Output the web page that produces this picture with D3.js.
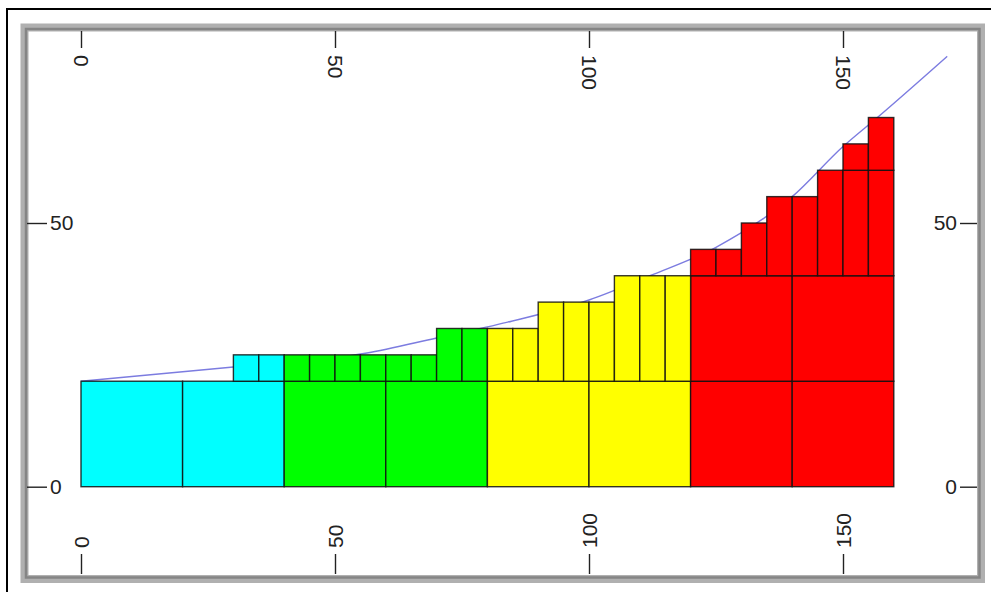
<!DOCTYPE html>
<html>
<head>
<meta charset="utf-8">
<script src="https://cdn.jsdelivr.net/npm/d3@7"></script>
<style>
  html, body { margin: 0; padding: 0; background: #fff; }
  svg { display: block; }
  text { font-family: "Liberation Sans", Arial, Helvetica, sans-serif; }
</style>
</head>
<body>
<svg id="chart" width="991" height="592"></svg>
<script>
// ---------- data ----------
const xTicks = [0, 50, 100, 150];
const yTicks = [0, 50];

// colour groups by x range
const groupBreaks = [0, 40, 80, 120, 160];
const groupColors = ["#00ffff", "#00ff00", "#ffff00", "#ff0000"];

// big blocks: 20 units wide, left edges and stacking levels
const bigX = [0, 20, 40, 60, 80, 100, 120, 140];
const bigWidth = 20;
const bigLevels = [
  [0, 20], [0, 20], [0, 20], [0, 20],
  [0, 20], [0, 20], [0, 20, 40], [0, 20, 40]
];

// small blocks: 5 units wide, left edges and stacking levels
const smallX = [30, 35, 40, 45, 50, 55, 60, 65, 70, 75, 80, 85, 90, 95, 100, 105, 110, 115,
                120, 125, 130, 135, 140, 145, 150, 155];
const smallWidth = 5;
const smallLevels = [
  [20, 25], [20, 25],
  [20, 25], [20, 25], [20, 25], [20, 25], [20, 25], [20, 25], [20, 30], [20, 30],
  [20, 30], [20, 30], [20, 35], [20, 35], [20, 35], [20, 40], [20, 40], [20, 40],
  [40, 45], [40, 45], [40, 50], [40, 55], [40, 55], [40, 60], [40, 60, 65], [40, 60, 70]
];

// smooth reference curve
const curveX = [0, 30, 56, 70, 84, 100, 112, 125, 140, 150, 157, 170.5];
const curveY = [20, 22.7, 25.3, 28.2, 31.2, 35.4, 40, 45.4, 55, 64.5, 70.2, 81.6];

// ---------- drawing ----------
const svg = d3.select("#chart");
const W = 991, H = 592;

const x = d3.scaleLinear().domain([0, 150]).range([81, 843]);
const y = d3.scaleLinear().domain([0, 50]).range([486.7, 223]);

const colorOf = v => {
  const i = d3.bisectRight(groupBreaks, v) - 1;
  return groupColors[Math.max(0, Math.min(groupColors.length - 1, i))];
};

// outer black border (top and left only visible)
svg.append("path")
  .attr("d", `M7,${H} L7,9 L${W},9`)
  .attr("fill", "none").attr("stroke", "#000").attr("stroke-width", 2);

// panel bevel frame
const pL = 24.5, pT = 27.5, pR = 981, pB = 579;
svg.append("rect")
  .attr("x", pL).attr("y", pT).attr("width", pR - pL).attr("height", pB - pT)
  .attr("fill", "#fff").attr("stroke", "#b0b0b0").attr("stroke-width", 8);
svg.append("rect")
  .attr("x", pL + 1.5).attr("y", pT + 1.5).attr("width", pR - pL - 3).attr("height", pB - pT - 3)
  .attr("fill", "none").attr("stroke", "#858585").attr("stroke-width", 2.5);

// curve (drawn beneath the blocks)
const line = d3.line().x(d => x(d[0])).y(d => y(d[1])).curve(d3.curveMonotoneX);
svg.append("path")
  .datum(curveX.map((v, i) => [v, curveY[i]]))
  .attr("d", line)
  .attr("fill", "none").attr("stroke", "#7c7ce0").attr("stroke-width", 1.4);

// build block list
const blocks = [];
bigX.forEach((x0, i) => {
  const lv = bigLevels[i];
  for (let k = 0; k < lv.length - 1; k++)
    blocks.push({ x0, x1: x0 + bigWidth, y0: lv[k], y1: lv[k + 1] });
});
smallX.forEach((x0, i) => {
  const lv = smallLevels[i];
  for (let k = 0; k < lv.length - 1; k++)
    blocks.push({ x0, x1: x0 + smallWidth, y0: lv[k], y1: lv[k + 1] });
});

svg.append("g").selectAll("rect").data(blocks).join("rect")
  .attr("x", d => x(d.x0))
  .attr("y", d => y(d.y1))
  .attr("width", d => x(d.x1) - x(d.x0))
  .attr("height", d => y(d.y0) - y(d.y1))
  .attr("fill", d => colorOf(d.x0))
  .attr("stroke", "#111")
  .attr("stroke-opacity", 0.85)
  .attr("stroke-width", 1.4);

// ---------- axes ----------
const fontSize = 21;
function styleAxis(g) {
  g.select(".domain").remove();
  g.selectAll(".tick line").attr("stroke", "#222").attr("stroke-width", 1.4);
  g.selectAll(".tick text").attr("fill", "#222").style("font-size", fontSize + "px");
}

// top axis (ticks pointing inward/down, labels rotated clockwise)
const gTop = svg.append("g").attr("transform", "translate(0,31)")
  .call(d3.axisBottom(x).tickValues(xTicks).tickSize(17).tickFormat(d3.format("d")));
styleAxis(gTop);
gTop.selectAll(".tick text")
  .attr("transform", "rotate(90)")
  .attr("x", 24).attr("y", 0).attr("dy", "0.35em")
  .attr("text-anchor", "start");

// bottom axis (ticks pointing inward/up, labels rotated counter-clockwise)
const gBot = svg.append("g").attr("transform", "translate(0,574)")
  .call(d3.axisTop(x).tickValues(xTicks).tickSize(20).tickFormat(d3.format("d")));
styleAxis(gBot);
gBot.selectAll(".tick text")
  .attr("transform", "rotate(-90)")
  .attr("x", 26).attr("y", 0).attr("dy", "0.35em")
  .attr("text-anchor", "start");

// left axis
const gLeft = svg.append("g").attr("transform", "translate(27,0)")
  .call(d3.axisRight(y).tickValues(yTicks).tickSize(20).tickPadding(3).tickFormat(d3.format("d")));
styleAxis(gLeft);

// right axis
const gRight = svg.append("g").attr("transform", "translate(977,0)")
  .call(d3.axisLeft(y).tickValues(yTicks).tickSize(17).tickPadding(3).tickFormat(d3.format("d")));
styleAxis(gRight);
</script>
</body>
</html>
